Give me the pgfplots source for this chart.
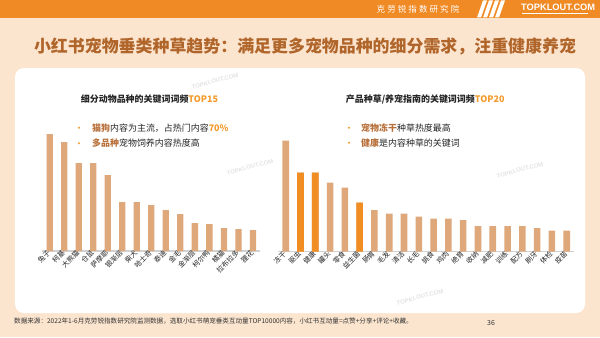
\documentclass[border=0pt]{standalone}
\usepackage{pgfplots}
\pgfplotsset{compat=1.18}
\usepackage{fontspec}
\setmainfont{Noto Sans CJK SC}
\newfontfamily\latinsans{Liberation Sans}
\definecolor{bgpeach}{HTML}{FCE5CF}
\definecolor{hdr}{HTML}{F08A24}
\definecolor{titlec}{HTML}{B0652A}
\definecolor{tanbar}{HTML}{DEA87B}
\definecolor{orbar}{HTML}{F08E23}
\definecolor{hlbrown}{HTML}{B8703A}
\definecolor{hlorange}{HTML}{F39A2B}
\definecolor{txt}{HTML}{262626}
\definecolor{foot}{HTML}{333333}
\begin{document}
\begin{tikzpicture}[x=1bp,y=1bp]
\path[use as bounding box] (0,0) rectangle (600,337);
\fill[bgpeach] (0,0) rectangle (600,337);
\fill[hdr] (0,319) rectangle (600,337);
% header text
\node[text=white, font=\fontsize{8.5}{9}\selectfont\addfontfeature{LetterSpace=25}] at (418,328) {克劳锐指数研究院};
\foreach \s in {0,6,12,18}{
  \fill[white] (477+\s,319.5) -- (481+\s,319.5) -- (487+\s,336.5) -- (483+\s,336.5) -- cycle;
}
\node[text=white, font=\latinsans\fontsize{9.3}{10}\selectfont\bfseries, anchor=west, inner sep=0pt] at (521,330) {TOPKLOUT.COM};
\fill[white] (521.5,322.5) rectangle (588,323.5);
% panel
\fill[white, rounded corners=9bp] (15,24) rectangle (585,269);
% title
\node[text=titlec, font=\fontsize{17}{18}\selectfont\bfseries] at (305,291) {小红书宠物垂类种草趋势：满足更多宠物品种的细分需求，注重健康养宠};
% watermarks
\foreach \px/\py in {215/256, 520/167, 250/170, 420/40}{
  \node[text=gray!22, rotate=15, font=\latinsans\fontsize{6}{6}\selectfont\bfseries] at (\px,\py) {TOPKLOUT.COM};
}
% subtitles
\node[anchor=west, text=txt, font=\fontsize{9}{10}\selectfont\bfseries, inner sep=0pt] at (80.7,238) {细分动物品种的关键词词频\textcolor{hlorange}{TOP15}};
\node[anchor=west, text=txt, font=\fontsize{9}{10}\selectfont\bfseries, inner sep=0pt] at (345.7,237.5) {产品种草/养宠指南的关键词词频\textcolor{hlorange}{TOP20}};
% bullets
\foreach \bx/\by in {79/209.3, 79/193.7, 349/209.3, 349/194.3}{
  \fill[hlorange] (\bx,\by) circle (1.1);
}
\node[anchor=west, text=txt, font=\fontsize{9}{10}\selectfont, inner sep=0pt] at (92,209.3) {\textcolor{hlbrown}{\bfseries 猫狗}内容为主流，占热门内容\textcolor{hlorange}{\bfseries 70\%}};
\node[anchor=west, text=txt, font=\fontsize{9}{10}\selectfont, inner sep=0pt] at (92,193.7) {\textcolor{hlbrown}{\bfseries 多品种}宠物饲养内容热度高};
\node[anchor=west, text=txt, font=\fontsize{9}{10}\selectfont, inner sep=0pt] at (361,209.3) {\textcolor{hlbrown}{\bfseries 宠物冻干}种草热度最高};
\node[anchor=west, text=txt, font=\fontsize{9}{10}\selectfont, inner sep=0pt] at (361,194.3) {\textcolor{hlbrown}{\bfseries 健康}是内容种草的关键词};
% footnote
\node[anchor=west, text=foot, font=\fontsize{6.6}{7}\selectfont, inner sep=0pt] at (14,16) {数据来源：2022年1-6月克劳锐指数研究院监测数据，选取小红书萌宠垂类互动量TOP10000内容，小红书互动量=点赞+分享+评论+收藏。};
\node[text=foot, font=\fontsize{7}{7}\selectfont, inner sep=0pt] at (491,14) {36};

\pgfplotsset{
  petbar/.style={
    scale only axis, anchor=south west,
    ymin=0, ymax=120, height=120bp,
    enlargelimits=false,
    axis x line=bottom, axis y line=none,
    x axis line style={-, draw=gray!35, line width=1.2pt},
    xtick=data, major tick length=0pt,
    xticklabel style={rotate=45, anchor=east, inner sep=1pt, font=\fontsize{7}{7}\selectfont, text=txt},
    ytick=\empty,
    clip=false,
  }
}
\begin{axis}[petbar, at={(42.4bp,86bp)}, width=217.8bp, xmin=-0.5, xmax=14.5,
  xticklabels={兔子,柯基,大熊猫,仓鼠,萨摩耶,银渐层,柴犬,哈士奇,泰迪,金毛,金渐层,柯尔鸭,橘猫,拉布拉多,狸花}]
\addplot[ybar, bar width=6.3bp, fill=tanbar, draw=none] coordinates {
(0,117) (1,109) (2,88) (3,88) (4,76) (5,49) (6,49) (7,46) (8,41) (9,37) (10,28) (11,27) (12,23) (13,22) (14,21)};
\end{axis}
\begin{axis}[petbar, at={(278.3bp,85.5bp)}, width=295.8bp, xmin=-0.5, xmax=19.5,
  xticklabels={冻干,驱虫,健康,罐头,零食,益生菌,肠胃,毛发,清洁,长毛,挑食,鸡肉,绝育,收纳,减肥,训练,配方,刷牙,体检,疫苗}]
\addplot[ybar, bar width=6.6bp, bar shift=0pt, fill=tanbar, draw=none] coordinates {
(0,111) (1,79) (2,79) (3,69) (4,64) (5,49) (6,41.5) (7,38) (8,38) (9,35) (10,33) (11,33) (12,31.5) (13,25.5) (14,25.5) (15,25.5) (16,25.5) (17,23.5) (18,21) (19,21)};
\addplot[ybar, bar width=6.6bp, bar shift=0pt, fill=orbar, draw=none] coordinates {
(1,79) (2,79) (5,49)};
\end{axis}
\end{tikzpicture}
\end{document}
